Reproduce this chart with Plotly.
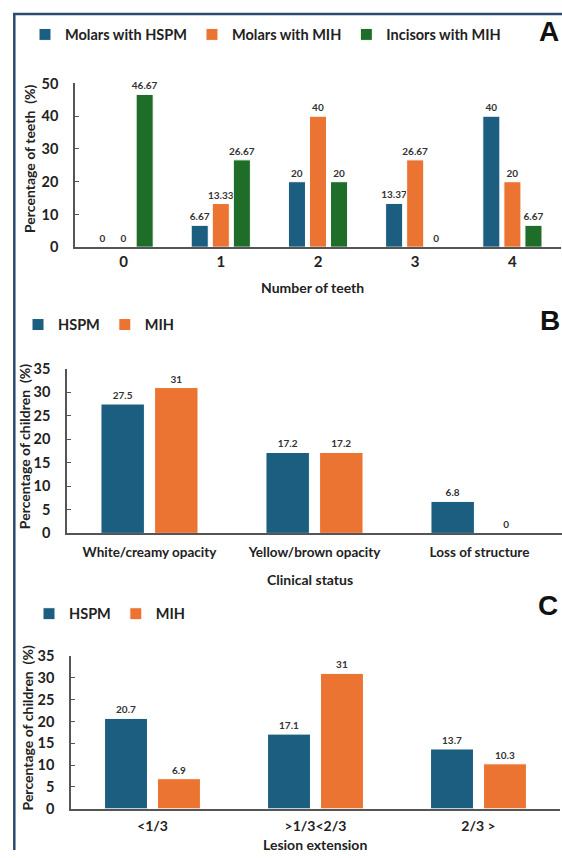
import plotly.graph_objects as go

# ---------------- data ----------------
teeth_categories = ["0", "1", "2", "3", "4"]
molars_hspm = [0, 6.67, 20, 13.37, 40]
molars_mih = [0, 13.33, 40, 26.67, 20]
incisors_mih = [46.67, 26.67, 20, 0, 6.67]

clinical_categories = ["White/creamy opacity", "Yellow/brown opacity", "Loss of structure"]
clinical_hspm = [27.5, 17.2, 6.8]
clinical_mih = [31, 17.2, 0]

lesion_categories = ["<1/3", ">1/3<2/3", "2/3 >"]
lesion_hspm = [20.7, 17.1, 13.7]
lesion_mih = [6.9, 31, 10.3]

# ---------------- style ----------------
W, H = 562, 858
BLUE = "#1b5e80"
ORANGE = "#ec7433"
GREEN = "#1e6e2a"
FRAME = "#2c4a6e"
TXT = "#222222"
FONT = "Lato"

def px(x):
    return x / W

def py(y):
    return 1 - y / H

def fmt(v):
    return f"{v:g}"

def bar(x, y, name, color, xa, ya, legend):
    return go.Bar(
        x=x, y=y, name=name, xaxis=xa, yaxis=ya, legend=legend,
        marker=dict(color=color, line=dict(color="white", width=1)),
        text=[fmt(v) for v in y], textposition="outside",
        textfont=dict(family=FONT, size=10, color="#333333", weight="bold"),
        constraintext="none", cliponaxis=False,
    )

fig = go.Figure()
fig.add_trace(bar(teeth_categories, molars_hspm, "Molars with HSPM", BLUE, "x", "y", "legend"))
fig.add_trace(bar(teeth_categories, molars_mih, "Molars with MIH", ORANGE, "x", "y", "legend"))
fig.add_trace(bar(teeth_categories, incisors_mih, "Incisors with MIH", GREEN, "x", "y", "legend"))
fig.add_trace(bar(clinical_categories, clinical_hspm, "HSPM", BLUE, "x2", "y2", "legend2"))
fig.add_trace(bar(clinical_categories, clinical_mih, "MIH", ORANGE, "x2", "y2", "legend2"))
fig.add_trace(bar(lesion_categories, lesion_hspm, "HSPM", BLUE, "x3", "y3", "legend3"))
fig.add_trace(bar(lesion_categories, lesion_mih, "MIH", ORANGE, "x3", "y3", "legend3"))

def xaxis(domain, anchor, size, standoff):
    return dict(
        domain=domain, anchor=anchor, type="category",
        showline=True, linecolor="#555555", linewidth=1.5,
        ticks="", showgrid=False, zeroline=False,
        tickfont=dict(family=FONT, size=size, color=TXT, weight="bold"),
        ticklabelstandoff=standoff, fixedrange=True,
    )

def yaxis(domain, anchor, rng, dtick):
    return dict(
        domain=domain, anchor=anchor, range=rng, dtick=dtick,
        showline=True, linecolor="#555555", linewidth=1.5,
        ticks="inside", ticklen=4, tickcolor="#555555",
        showgrid=False, zeroline=False,
        tickfont=dict(family=FONT, size=14.5, color=TXT, weight="bold"),
        ticklabelstandoff=12, fixedrange=True,
    )

legend_font = dict(family=FONT, size=14.5, color=TXT, weight="bold")

fig.update_layout(
    width=W, height=H, margin=dict(l=0, r=0, t=0, b=0),
    paper_bgcolor="white", plot_bgcolor="white",
    barmode="group",
    font=dict(family=FONT, color=TXT),
    xaxis=xaxis([px(75), px(561)], "y", 15, 0),
    yaxis=yaxis([py(243), py(76)], "x", [0, 50], 10),
    xaxis2=xaxis([px(67), px(562)], "y2", 13.5, 6),
    yaxis2=yaxis([py(535), py(367)], "x2", [0, 35], 5),
    xaxis3=xaxis([px(71), px(560)], "y3", 14, 4),
    yaxis3=yaxis([py(816), py(660)], "x3", [0, 35], 5),
    bargap=0.35, bargroupgap=0.19,
    legend=dict(orientation="h", x=px(25), y=py(26), xanchor="left", yanchor="middle",
                font=legend_font, bgcolor="rgba(0,0,0,0)"),
    legend2=dict(orientation="h", x=px(18), y=py(322), xanchor="left", yanchor="middle",
                 font=legend_font, bgcolor="rgba(0,0,0,0)"),
    legend3=dict(orientation="h", x=px(29), y=py(617), xanchor="left", yanchor="middle",
                 font=legend_font, bgcolor="rgba(0,0,0,0)"),
)

annotations = [
    dict(text="Number of teeth", x=px(312), y=py(284)),
    dict(text="Clinical status", x=px(310), y=py(582)),
    dict(text="Lesion extension", x=px(315), y=py(852)),
]
for a in annotations:
    a.update(xref="paper", yref="paper", showarrow=False, xanchor="center", yanchor="middle",
             font=dict(family=FONT, size=14, color=TXT, weight="bold"))

ytitles = [
    dict(text="Percentage of teeth\u00a0 (%)", x=px(30), y=py(153)),
    dict(text="Percentage of children\u00a0 (%)", x=px(24), y=py(447)),
    dict(text="Percentage of children\u00a0 (%)", x=px(27), y=py(734)),
]
for a in ytitles:
    a.update(xref="paper", yref="paper", showarrow=False, textangle=-90,
             xanchor="center", yanchor="middle",
             font=dict(family=FONT, size=14, color=TXT, weight="bold"))

letters = [
    dict(text="A", x=px(549), y=py(23)),
    dict(text="B", x=px(550), y=py(318)),
    dict(text="C", x=px(548), y=py(609)),
]
for a in letters:
    a.update(xref="paper", yref="paper", showarrow=False, xanchor="center", yanchor="middle",
             font=dict(family="Liberation Sans", size=28, color="#111111", weight="bold"))

fig.update_layout(annotations=annotations + ytitles + letters)

fig.add_shape(type="line", xref="paper", yref="paper", x0=px(14.3), x1=px(14.3), y0=py(4), y1=0,
              line=dict(color=FRAME, width=2.5))
fig.add_shape(type="line", xref="paper", yref="paper", x0=px(13), x1=1, y0=py(5), y1=py(5),
              line=dict(color=FRAME, width=2.5))

fig.write_html("out.html")
